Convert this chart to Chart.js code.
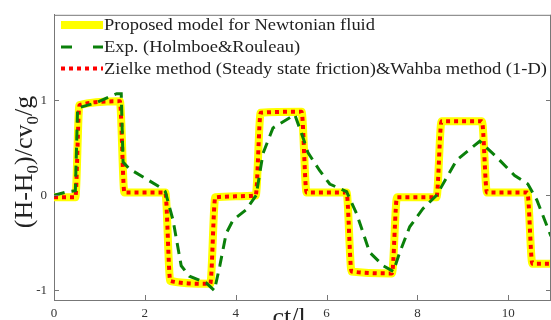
<!DOCTYPE html>
<html>
<head>
<meta charset="utf-8">
<script src="https://cdn.jsdelivr.net/npm/chart.js@4.4.0/dist/chart.umd.min.js"></script>
<style>
  body { margin: 0; background: #fff; }
  #wrap { width: 551px; height: 320px; }
</style>
</head>
<body>
<div id="wrap"><canvas id="waterChart" width="551" height="320"></canvas></div>
<script>
// Proposed model / Zielke method (same step curve)
const modelX = [0, 0.47, 0.56, 1.45, 1.55, 2.45, 2.56, 3.44, 3.55, 4.44, 4.55, 5.45, 5.56, 6.44, 6.55, 7.44, 7.55, 8.42, 8.53, 9.42, 9.53, 10.42, 10.53, 10.94];
const modelY = [-0.02, -0.02, 0.95, 0.99, 0.03, 0.03, -0.9, -0.93, -0.02, 0.0, 0.87, 0.88, 0.03, 0.03, -0.8, -0.82, -0.02, -0.02, 0.78, 0.78, 0.03, 0.03, -0.72, -0.72];

// Exp. (Holmboe & Rouleau)
const expX = [0, 0.3, 0.47, 0.52, 0.9, 1.38, 1.48, 1.52, 1.66, 2.32, 2.45, 2.62, 2.8, 2.98, 3.35, 3.53, 3.65, 3.79, 3.94, 4.23, 4.45, 4.6, 4.82, 5.3, 5.48, 5.59, 5.85, 6.07, 6.44, 6.66, 6.95, 7.25, 7.47, 7.61, 7.83, 8.12, 8.42, 8.86, 9.37, 9.75, 10.14, 10.43, 10.63, 10.94];
const expY = [0, 0.04, 0.05, 0.92, 0.97, 1.07, 1.07, 0.35, 0.28, 0.09, 0.04, -0.26, -0.74, -0.85, -0.92, -1.0, -0.74, -0.4, -0.26, -0.15, 0.0, 0.44, 0.71, 0.85, 0.61, 0.45, 0.26, 0.12, 0.04, -0.19, -0.6, -0.74, -0.8, -0.6, -0.33, -0.14, 0.0, 0.37, 0.57, 0.4, 0.21, 0.12, -0.05, -0.43];

const xTicks = [0, 2, 4, 6, 8, 10];
const yTicks = [-1, 0, 1];

const legendLabels = [
  'Proposed model for Newtonian fluid',
  'Exp. (Holmboe&Rouleau)',
  'Zielke method (Steady state friction)&Wahba method (1-D)'
];

const serif = "'Liberation Serif', 'Times New Roman', serif";
const axisColor = '#777';

function toPoints(xs, ys) {
  return xs.map((x, i) => ({ x: x, y: ys[i] }));
}

// draw text with subscript pieces, centered at (0,0) baseline
function drawMixed(ctx, parts, size, subSize, subShift) {
  let total = 0;
  parts.forEach(p => {
    ctx.font = (p.sub ? subSize : size) + 'px ' + serif;
    p.w = ctx.measureText(p.t).width;
    total += p.w;
  });
  let x = -total / 2;
  parts.forEach(p => {
    ctx.font = (p.sub ? subSize : size) + 'px ' + serif;
    ctx.fillText(p.t, x, p.sub ? subShift : 0);
    x += p.w;
  });
}

const framePlugin = {
  id: 'frame',
  afterDraw(chart) {
    const ctx = chart.ctx;
    const a = chart.chartArea;
    const xs = chart.scales.x, ys = chart.scales.y;
    ctx.save();
    ctx.strokeStyle = axisColor;
    ctx.lineWidth = 1;
    ctx.beginPath();
    ctx.moveTo(a.left, a.top + 0.5); ctx.lineTo(a.right, a.top + 0.5);
    ctx.moveTo(a.right - 0.5, a.top); ctx.lineTo(a.right - 0.5, a.bottom);
    // inward ticks
    xTicks.forEach(v => {
      const px = Math.round(xs.getPixelForValue(v)) + 0.5;
      ctx.moveTo(px, a.bottom); ctx.lineTo(px, a.bottom - 5);
    });
    yTicks.forEach(v => {
      const py = Math.round(ys.getPixelForValue(v)) + 0.5;
      ctx.moveTo(a.left, py); ctx.lineTo(a.left + 5, py);
      ctx.moveTo(a.right, py); ctx.lineTo(a.right - 5, py);
    });
    ctx.stroke();

    // legend
    const rows = [25, 47, 68.5];
    const lx0 = 61, lx1 = 103;
    ctx.lineCap = 'butt';
    // yellow
    ctx.strokeStyle = '#ffff00';
    ctx.lineWidth = 8;
    ctx.beginPath(); ctx.moveTo(lx0, rows[0]); ctx.lineTo(lx1, rows[0]); ctx.stroke();
    // green
    ctx.strokeStyle = '#0a800a';
    ctx.lineWidth = 3;
    ctx.beginPath();
    ctx.moveTo(lx0, rows[1]); ctx.lineTo(lx0 + 11, rows[1]);
    ctx.moveTo(lx1 - 10, rows[1]); ctx.lineTo(lx1, rows[1]);
    ctx.stroke();
    // red dotted
    ctx.strokeStyle = '#ff0000';
    ctx.lineWidth = 4;
    ctx.setLineDash([4, 4]);
    ctx.beginPath(); ctx.moveTo(lx0, rows[2]); ctx.lineTo(lx1, rows[2]); ctx.stroke();
    ctx.setLineDash([]);

    // legend text is a little stretched sideways in the source
    ctx.fillStyle = '#1e1e1e';
    ctx.font = '16.5px ' + serif;
    ctx.textBaseline = 'middle';
    ctx.textAlign = 'left';
    legendLabels.forEach((t, i) => {
      ctx.save();
      ctx.translate(lx1 + 1, rows[i] + 1);
      ctx.scale(1.12, 1);
      ctx.fillText(t, 0, 0);
      ctx.restore();
    });

    // axis titles
    ctx.textBaseline = 'alphabetic';
    ctx.fillStyle = '#222';
    ctx.save();
    ctx.translate(32, 162);
    ctx.rotate(-Math.PI / 2);
    drawMixed(ctx, [
      { t: '(H-H' }, { t: '0', sub: true }, { t: ')/cv' }, { t: '0', sub: true }, { t: '/g' }
    ], 26, 17, 6);
    ctx.restore();
    ctx.save();
    ctx.translate(289, 325);
    drawMixed(ctx, [{ t: 'ct/l' }], 26, 17, 6);
    ctx.restore();
    ctx.restore();
  }
};

const ctx = document.getElementById('waterChart').getContext('2d');
const waterChart = new Chart(ctx, {
  type: 'line',
  data: {
    datasets: [
      {
        label: legendLabels[1],
        data: toPoints(expX, expY),
        borderColor: '#0a800a',
        borderWidth: 3,
        borderDash: [11, 7],
        tension: 0,
        pointRadius: 0,
        order: 1,
      },
      {
        label: legendLabels[2],
        data: toPoints(modelX, modelY),
        borderColor: '#ff0000',
        borderWidth: 4,
        borderDash: [4, 4],
        cubicInterpolationMode: 'monotone',
        pointRadius: 0,
        order: 2,
      },
      {
        label: legendLabels[0],
        data: toPoints(modelX, modelY),
        borderColor: '#ffff00',
        borderWidth: 8,
        borderJoinStyle: 'round',
        borderCapStyle: 'round',
        cubicInterpolationMode: 'monotone',
        pointRadius: 0,
        order: 3,
      },
    ],
  },
  options: {
    responsive: false,
    animation: false,
    layout: { padding: { top: 12, right: 0, left: 0, bottom: 0 } },
    scales: {
      x: {
        type: 'linear',
        min: 0,
        max: 10.94,
        afterBuildTicks: s => { s.ticks = xTicks.map(v => ({ value: v })); },
        afterFit: s => { s.height = 20; },
        grid: { display: false, drawTicks: false },
        border: { display: true, color: axisColor },
        ticks: { font: { family: serif, size: 13 }, color: '#333', padding: 6, maxRotation: 0 },
      },
      y: {
        min: -1.1,
        max: 1.9,
        afterBuildTicks: s => { s.ticks = yTicks.map(v => ({ value: v })); },
        afterFit: s => { s.width = 54; },
        grid: { display: false, drawTicks: false },
        border: { display: true, color: axisColor },
        ticks: { font: { family: serif, size: 13 }, color: '#333', padding: 7 },
      },
    },
    plugins: {
      legend: { display: false },
      tooltip: { enabled: false },
    },
  },
  plugins: [framePlugin],
});
</script>
</body>
</html>
